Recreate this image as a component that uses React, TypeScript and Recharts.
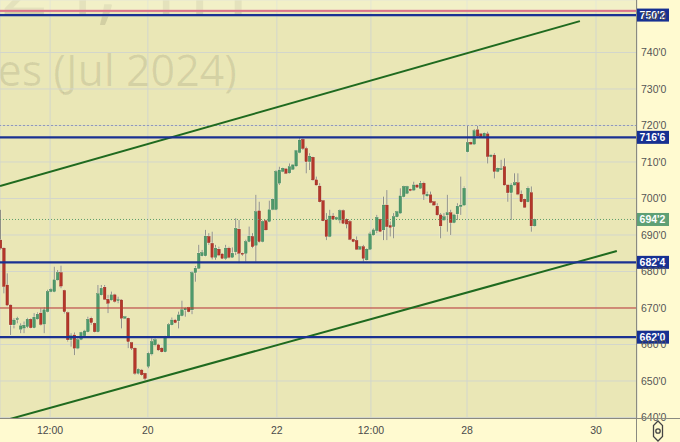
import React from 'react';
import { ComposedChart, Bar, XAxis, YAxis, CartesianGrid, ReferenceLine, ReferenceArea } from 'recharts';

const opens = [688.6,686.4,676.3,670.8,665.4,667.0,664.2,664.5,664.9,666.9,664.6,667.0,668.6,665.6,669.0,674.5,674.5,677.7,679.7,674.8,668.7,661.3,662.6,659.0,661.4,662.4,663.5,667.2,665.8,663.5,673.6,675.7,672.4,672.2,673.6,672.2,672.2,667.2,667.2,660.5,659.0,652.1,653.0,652.1,654.0,657.4,659.9,659.9,659.0,658.0,662.0,665.4,666.7,666.5,667.9,669.5,670.1,669.5,679.7,680.9,684.3,684.3,689.6,687.7,683.9,686.1,684.8,683.6,686.4,683.9,685.4,691.6,685.0,685.0,688.2,689.6,687.2,696.6,688.2,693.9,693.7,697.0,697.0,704.2,707.4,708.1,707.0,708.0,708.9,712.6,716.2,713.7,710.1,711.3,705.1,703.4,699.4,694.1,689.6,695.2,694.3,694.1,696.7,694.3,693.7,688.8,688.5,686.1,686.8,683.2,686.1,690.0,691.2,694.3,691.4,698.2,692.6,692.3,695.0,696.0,700.5,701.4,702.5,702.3,703.7,702.8,704.2,700.7,701.0,699.1,697.9,695.5,694.1,695.5,696.1,693.4,695.8,697.8,698.2,712.8,715.4,714.9,718.8,717.7,716.9,717.7,711.5,711.9,707.4,708.1,708.7,703.7,701.6,703.7,704.3,701.2,699.8,699.1,701.6,692.5];
const highs = [696.9,686.6,679.5,671.0,667.2,667.6,665.8,666.3,667.3,667.2,668.6,668.8,669.9,670.2,675.0,675.5,681.3,680.4,681.6,675.0,669.0,663.1,663.3,661.7,663.5,664.0,667.6,667.6,666.0,676.3,676.3,676.3,673.6,674.5,673.9,673.1,672.4,667.8,667.4,660.7,659.2,653.5,653.3,652.3,658.0,661.7,661.7,660.2,659.3,662.4,665.8,667.4,667.0,669.0,672.0,670.2,670.3,680.0,681.5,687.3,685.9,691.4,690.5,690.9,687.3,686.8,685.0,687.3,686.8,686.6,694.6,694.1,685.2,688.7,692.3,690.5,701.0,699.1,694.0,694.2,699.4,700.0,707.8,708.7,708.5,708.3,709.6,709.4,713.3,716.5,716.5,714.2,712.4,711.5,706.0,704.2,699.6,696.0,696.9,696.0,695.0,697.0,697.0,694.6,694.1,689.0,689.6,687.0,687.3,686.4,690.9,691.8,695.5,694.5,700.5,702.3,693.7,696.0,696.6,702.8,703.5,703.5,702.7,704.6,703.9,704.8,704.6,701.9,701.9,699.3,698.7,696.0,696.0,701.0,696.9,695.8,698.7,706.0,703.3,719.9,715.6,719.0,719.9,717.9,718.1,718.3,712.1,712.4,708.5,710.6,711.0,703.7,704.2,706.9,706.9,702.2,700.0,703.3,703.3,694.5];
const lows = [686.0,674.0,670.5,662.6,664.4,665.8,663.1,663.1,664.5,664.4,664.4,666.8,665.2,663.1,668.8,674.3,674.3,677.5,675.4,668.5,660.8,659.4,657.1,658.7,661.2,662.2,663.3,665.4,663.3,663.3,673.4,672.2,668.6,672.0,671.5,671.3,664.4,667.0,659.0,658.5,651.7,651.8,651.4,650.2,653.5,657.0,659.5,658.2,657.8,657.8,661.8,665.2,665.8,664.4,667.7,667.6,668.8,668.3,677.2,680.7,684.1,684.1,687.3,683.3,683.2,684.2,683.4,683.2,683.6,683.7,684.5,682.3,684.3,682.7,688.0,686.4,682.7,687.9,688.0,691.2,693.5,696.8,696.8,703.7,707.2,706.7,706.8,707.8,708.7,712.4,713.3,706.9,707.8,704.8,703.5,698.9,693.7,688.6,689.4,694.1,694.1,693.2,693.0,691.8,688.6,688.0,685.9,685.9,682.7,683.0,685.9,689.8,690.5,690.8,688.6,688.6,689.6,689.1,694.8,695.8,700.3,701.2,702.0,702.1,702.9,702.6,699.6,700.5,698.7,698.0,695.3,689.1,693.9,690.9,690.0,693.2,694.1,695.5,698.0,712.6,714.7,714.7,716.8,716.7,716.7,709.6,711.3,705.5,707.2,707.9,703.5,699.1,694.1,703.5,700.9,698.9,697.4,698.9,690.9,692.3];
const closes = [686.4,675.9,670.8,665.4,666.7,667.1,665.1,665.3,666.9,664.6,667.5,668.3,665.5,669.5,674.5,675.1,677.7,679.7,676.0,669.0,661.3,662.4,659.0,661.3,663.3,663.7,666.9,666.0,663.5,673.9,675.4,672.4,671.3,673.6,671.8,672.3,667.2,667.6,660.8,659.0,652.1,653.2,651.7,650.7,657.6,660.8,661.3,658.5,658.0,662.2,665.4,666.7,666.0,668.1,669.5,669.9,669.0,679.7,680.9,685.0,685.2,689.7,687.9,683.9,686.4,684.5,683.6,686.4,683.9,685.0,691.8,685.0,684.8,688.2,689.7,686.8,696.4,688.2,693.7,691.4,696.9,699.8,707.4,707.8,708.3,706.9,708.7,709.2,713.1,716.0,713.7,710.1,711.6,705.1,703.7,699.1,693.9,689.6,695.2,694.3,694.8,696.7,693.2,693.0,688.8,688.2,686.1,686.8,683.6,686.1,690.3,691.4,694.8,691.0,698.2,692.3,692.1,695.0,696.4,700.7,703.3,703.3,702.2,703.7,703.1,704.2,701.2,701.2,698.9,698.2,695.5,692.5,695.0,696.1,693.4,695.5,697.9,698.2,702.8,715.3,714.9,718.6,717.1,716.9,717.9,711.5,711.9,707.4,708.3,708.2,703.7,701.6,703.7,704.3,701.2,699.1,697.6,702.8,692.5,694.3];

const timeTicks = [14.7, 43.8, 82.2, 110.2, 138.8, 177.2];
const timeLabels = ['12:00', '20', '22', '12:00', '28', '30'];
const priceTicks = [640, 650, 660, 670, 680, 690, 700, 710, 720, 730, 740, 750];
const levelPrices = [750.25, 716.75, 682.5, 662.0];
const levelLabels = ["750'2", "716'6", "682'4", "662'0"];
const lastPrice = 694.25;
const lastPriceLabel = "694'2";
const highMark = 720.0;
const redLevel = 670;
const pinkLevel = 751.4;
const upperChannelX = [-0.2, 172.4];
const upperChannelY = [703.4, 748.6];
const lowerChannelX = [2.8, 183.4];
const lowerChannelY = [639.6, 685.6];

const data = opens.map((o, i) => ({
  i,
  open: o,
  high: highs[i],
  low: lows[i],
  close: closes[i],
  range: [lows[i], highs[i]],
}));

const FONT = '"Liberation Sans", Arial, sans-serif';

const fmtPrice = (v: number) => {
  const w = Math.floor(v + 1e-9);
  const e = Math.round((v - w) * 8);
  return `${w}'${e}`;
};

const Candle = (props: any) => {
  const { x, y, width, height, payload } = props;
  if (!payload) return null;
  const top = Math.min(y, y + height);
  const h = Math.abs(height);
  const { open, close, high, low } = payload;
  const rng = high - low || 1;
  const py = (v: number) => top + ((high - v) / rng) * h;
  const cx = x + width / 2;
  const up = close >= open;
  const bt = py(Math.max(open, close));
  const bb = py(Math.min(open, close));
  const bh = Math.max(bb - bt, 1);
  return (
    <g>
      <line x1={cx} x2={cx} y1={top} y2={top + h} stroke="#F7F5D6" strokeWidth={2.2} strokeOpacity={0.6} />
      <line x1={cx} x2={cx} y1={top} y2={top + h} stroke="#8E8E86" strokeWidth={1} />
      <rect x={cx - 1.9} y={bt - 0.6} width={3.8} height={bh + 1.2} fill="#F8F6D8" fillOpacity={0.75} />
      <rect x={cx - 1.3} y={bt} width={2.6} height={bh} fill={up ? '#4F9A6B' : '#B5372A'} stroke={up ? '#3A7A52' : '#8A2418'} strokeWidth={0.4} />
    </g>
  );
};

const Badge = (props: any) => {
  const { viewBox, text, fill } = props;
  if (!viewBox) return null;
  const x = viewBox.x + viewBox.width;
  const y = viewBox.y;
  return (
    <g>
      <rect x={x - 1} y={y - 6.5} width={33} height={13} fill={fill} />
      <text x={x + 15.5} y={y + 3.7} textAnchor="middle" fill="#FFFFFF" fontSize={10.5} fontWeight="bold" fontFamily={FONT}>
        {text}
      </text>
    </g>
  );
};

export default function App() {
  return (
    <div style={{ position: 'absolute', left: 0, top: 0, width: 680, height: 442, background: '#FFFAD0', overflow: 'hidden' }}>
      <div style={{ position: 'absolute', left: 0, top: 0, width: 637, height: 418, background: '#EAE7B6' }} />
      <svg width={680} height={442} style={{ position: 'absolute', left: 0, top: 0 }}>
        <text x={250} y={14} textAnchor="end" fontSize={84} fontFamily='"Open Sans", sans-serif' fill="#000" fillOpacity={0.1}>
          ZWN2024, 1H
        </text>
        <text x={237} y={86} textAnchor="end" fontSize={43} fontFamily='"Open Sans", sans-serif' fill="#000" fillOpacity={0.09}>
          Wheat Futures (Jul 2024)
        </text>
      </svg>
      <div style={{ position: 'absolute', left: 0, top: 0 }}>
        <ComposedChart width={680} height={442} data={data} margin={{ top: 0, right: 0, bottom: 0, left: 0 }}>
          <ReferenceArea y1={pinkLevel} y2={754.38} fill="#FFFFE0" fillOpacity={0.4} stroke="none" ifOverflow="hidden" />
          <CartesianGrid stroke="#D3D6CC" strokeWidth={1} />
          <XAxis
            dataKey="i"
            type="number"
            domain={[-0.21, 189.4]}
            allowDataOverflow
            ticks={timeTicks}
            tickFormatter={(v: number) => timeLabels[timeTicks.indexOf(v)] ?? ''}
            height={24}
            tickSize={0}
            tickMargin={9}
            axisLine={false}
            tick={{ fontSize: 10.5, fill: '#4A4A4A', fontFamily: FONT }}
          />
          <YAxis
            orientation="right"
            type="number"
            domain={[639.86, 754.38]}
            allowDataOverflow
            ticks={priceTicks}
            tickFormatter={fmtPrice}
            width={43}
            tickSize={0}
            tickMargin={4}
            axisLine={false}
            tick={{ fontSize: 10.5, fill: '#555555', fontFamily: FONT, textAnchor: 'start' }}
          />
          <Bar dataKey="range" barSize={3} shape={<Candle />} isAnimationActive={false} />
          <ReferenceLine y={redLevel} stroke="#C0392B" strokeWidth={1} />
          <ReferenceLine y={highMark} stroke="#9098B8" strokeWidth={1} strokeDasharray="2 2" />
          <ReferenceLine y={pinkLevel} stroke="#E38DA2" strokeWidth={2.2} />
          <ReferenceLine y={pinkLevel} stroke="#D04A60" strokeWidth={0.6} />
          <ReferenceLine
            segment={[{ x: upperChannelX[0], y: upperChannelY[0] }, { x: upperChannelX[1], y: upperChannelY[1] }]}
            stroke="#1F6A1F"
            strokeWidth={2}
            ifOverflow="hidden"
          />
          <ReferenceLine
            segment={[{ x: lowerChannelX[0], y: lowerChannelY[0] }, { x: lowerChannelX[1], y: lowerChannelY[1] }]}
            stroke="#1F6A1F"
            strokeWidth={2}
            ifOverflow="hidden"
          />
          <ReferenceLine
            y={lastPrice}
            stroke="#5E9E6A"
            strokeWidth={1}
            strokeDasharray="1 2"
            label={<Badge text={lastPriceLabel} fill="#5FA075" />}
          />
          {levelPrices.map((p, k) => (
            <ReferenceLine
              key={k}
              y={p}
              stroke="#1A3192"
              strokeWidth={2.2}
              label={<Badge text={levelLabels[k]} fill="#173092" />}
            />
          ))}
        </ComposedChart>
      </div>
      <svg width={680} height={442} style={{ position: 'absolute', left: 0, top: 0, pointerEvents: 'none' }}>
        <line x1={636.5} x2={636.5} y1={0} y2={442} stroke="#8A8A80" strokeWidth={1} />
        <line x1={0} x2={680} y1={418.5} y2={418.5} stroke="#8A8A80" strokeWidth={1} />
        <polygon points="652.5,426.5 663.5,426.5 668,431 663.5,435.5 652.5,435.5 648,431" fill="none" stroke="#444" strokeWidth={1.3} transform="rotate(90 658 431) scale(1)" />
        <circle cx={658} cy={431} r={2.2} fill="none" stroke="#444" strokeWidth={1.3} />
      </svg>
    </div>
  );
}
